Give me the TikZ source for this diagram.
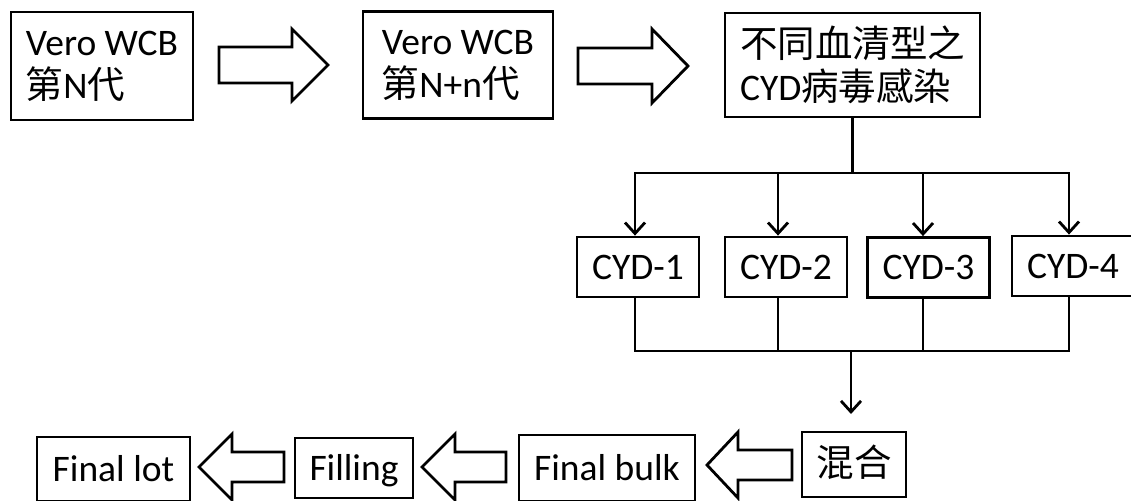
\documentclass[tikz,border=0pt]{standalone}
\usepackage{fontspec}
\setmainfont{Carlito}
\newfontfamily\cjk{Noto Sans CJK TC}
\usetikzlibrary{arrows.meta}
\newcommand\blkR[6]{% s0 s1 tip c h H
  \draw[blk] (#1,#4-#5) -- (#2,#4-#5) -- (#2,#4-#6) -- (#3,#4) -- (#2,#4+#6) -- (#2,#4+#5) -- (#1,#4+#5) -- cycle;}
\begin{document}
\begin{tikzpicture}[x=1pt,y=-1pt,
  box/.style={draw,line width=2.8pt,inner sep=0pt,align=left,font=\fontsize{37.5}{43}\selectfont},
  one/.style={text height=30pt,text depth=6pt},
  blk/.style={draw,line width=2.8pt,fill=white,line join=miter},
  conn/.style={line width=2.8pt,line cap=rect},
  arr/.style={line width=2.8pt,-{Straight Barb[length=11pt,width=20pt,line width=2.8pt]}}
]
\clip (0,0) rectangle (1131,500);
\fill[white] (0,0) rectangle (1131,500);
% top row
\node[box,minimum width=182pt,minimum height=108pt] (b1) at (102,66) {Vero WCB\\{\cjk 第}N{\cjk 代}};
\node[box,minimum width=190pt,minimum height=107pt] (b2) at (458,65) {Vero WCB\\{\cjk 第}N+n{\cjk 代}};
\node[box,minimum width=255pt,minimum height=104pt] (b3) at (852.5,65) {{\cjk 不同血清型之}\\CYD{\cjk 病毒感染}};
\blkR{219}{292}{328}{65}{18}{36}
\blkR{578}{652}{688}{66}{18}{37}
% CYD row
\node[box,one,minimum width=122pt,minimum height=60pt] (c1) at (638,267) {CYD-1};
\node[box,one,minimum width=122pt,minimum height=60pt] (c2) at (786,267) {CYD-2};
\node[box,one,minimum width=122pt,minimum height=60pt] (c3) at (928.5,267.5) {CYD-3};
\node[box,one,minimum width=122pt,minimum height=60pt] (c4) at (1073,266) {CYD-4};
% branching
\coordinate (bus) at (852.5,173);
\coordinate (j1) at (635,173);
\coordinate (j2) at (778,173);
\coordinate (j3) at (923,173);
\coordinate (j4) at (1069,173);
\draw[conn] (b3.south) -- (bus);
\draw[conn] (j1) -- (j4);
\draw[arr] (j1) -- (j1 |- c1.north);
\draw[arr] (j2) -- (j2 |- c2.north);
\draw[arr] (j3) -- (j3 |- c3.north);
\draw[arr] (j4) -- (j4 |- c4.north);
% merging
\coordinate (k1) at (635,351);
\coordinate (k2) at (778,351);
\coordinate (k3) at (923,351);
\coordinate (k4) at (1069,351);
\coordinate (k0) at (851,351);
\coordinate (kend) at (851,414);
\draw[conn] (k1 |- c1.south) -- (k1);
\draw[conn] (k2 |- c2.south) -- (k2);
\draw[conn] (k3 |- c3.south) -- (k3);
\draw[conn] (k4 |- c4.south) -- (k4);
\draw[conn] (k1) -- (k4);
\draw[arr] (k0) -- (kend);
% bottom row
\node[box,one,minimum width=153pt,minimum height=64pt] (fl) at (113.5,469) {Final lot};
\node[box,one,minimum width=118pt,minimum height=60pt] (fi) at (354,468) {Filling};
\node[box,one,minimum width=176pt,minimum height=66pt] (fb) at (607,468) {Final bulk};
\node[box,one,minimum width=104pt,minimum height=65pt] (mx) at (854,464.5) {\cjk 混合};
\blkR{284}{232}{199}{467}{15}{33}
\blkR{506}{455}{422}{467}{15}{33}
\blkR{792}{738}{707}{465}{15}{33}
\end{tikzpicture}
\end{document}
